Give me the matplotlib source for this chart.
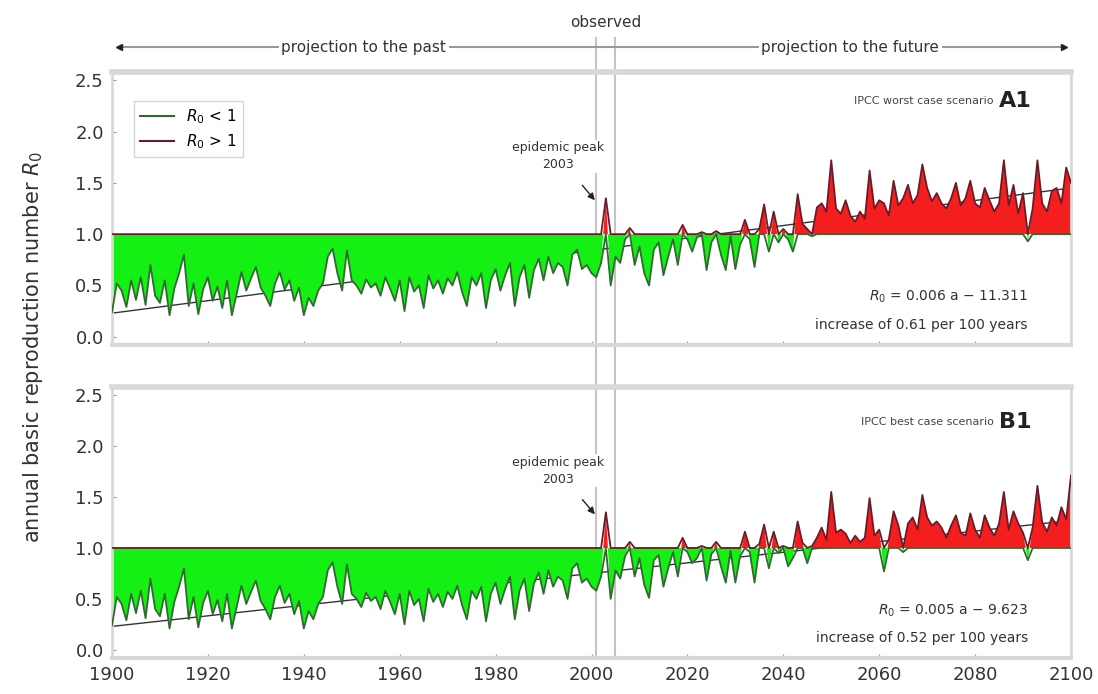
import numpy as np
import matplotlib.pyplot as plt
from matplotlib.lines import Line2D

# annual basic reproduction number R0
years = np.arange(1900, 2101)

# 1900-2005, same in both panels (projection to the past + observed)
r0_past = [
    0.24, 0.52, 0.45, 0.29, 0.55, 0.36, 0.58, 0.31, 0.70, 0.40,
    0.33, 0.55, 0.21, 0.47, 0.62, 0.80, 0.30, 0.52, 0.22, 0.46,
    0.58, 0.35, 0.49, 0.28, 0.55, 0.21, 0.42, 0.63, 0.45, 0.57,
    0.68, 0.48, 0.40, 0.30, 0.52, 0.63, 0.46, 0.55, 0.35, 0.48,
    0.21, 0.38, 0.30, 0.45, 0.52, 0.78, 0.86, 0.62, 0.45, 0.84,
    0.55, 0.50, 0.42, 0.56, 0.48, 0.52, 0.40, 0.58, 0.47, 0.35,
    0.55, 0.25, 0.58, 0.44, 0.50, 0.28, 0.60, 0.47, 0.55, 0.42,
    0.57, 0.50, 0.63, 0.44, 0.30, 0.58, 0.50, 0.62, 0.28, 0.55,
    0.66, 0.45, 0.60, 0.72, 0.30, 0.58, 0.70, 0.38, 0.65, 0.76,
    0.55, 0.78, 0.62, 0.72, 0.68, 0.50, 0.80, 0.85, 0.66, 0.70,
    0.62, 0.58, 0.72, 1.35, 0.50, 0.78,
]

# 2006-2100, IPCC scenario A1
r0_a1_future = [
    0.72, 0.95, 1.06, 0.70, 0.88, 0.62, 0.50, 0.85, 0.92, 0.60,
    0.78, 0.95, 0.70, 1.09, 0.95, 0.83, 0.97, 1.02, 0.65, 0.92,
    1.03, 0.80, 0.65, 0.98, 0.66, 0.90, 1.14, 0.95, 0.68, 1.05,
    1.29, 0.83, 1.22, 0.92, 1.05, 0.95, 0.83, 1.39, 1.10, 1.05,
    0.98, 1.26, 1.30, 1.22, 1.72, 1.25, 1.20, 1.33, 1.18, 1.12,
    1.22, 1.15, 1.62, 1.25, 1.33, 1.30, 1.18, 1.52, 1.28, 1.35,
    1.48, 1.30, 1.38, 1.68, 1.45, 1.32, 1.40, 1.30, 1.25, 1.35,
    1.50, 1.28, 1.35, 1.52, 1.30, 1.26, 1.45, 1.33, 1.22, 1.30,
    1.72, 1.28, 1.48, 1.20, 1.40, 0.93, 1.25, 1.72, 1.30, 1.22,
    1.42, 1.45, 1.30, 1.65, 1.50,
]

# 2006-2100, IPCC scenario B1
r0_b1_future = [
    0.70, 0.92, 1.06, 0.72, 0.90, 0.64, 0.51, 0.88, 0.93, 0.62,
    0.80, 0.96, 0.72, 1.10, 0.96, 0.85, 0.90, 1.02, 0.68, 0.94,
    1.06, 0.82, 0.66, 0.97, 0.66, 0.92, 1.16, 0.96, 0.66, 1.04,
    1.23, 0.80, 1.16, 0.95, 1.02, 0.82, 0.90, 1.26, 1.05, 0.85,
    1.02, 1.10, 1.20, 1.08, 1.55, 1.15, 1.18, 1.14, 1.05, 1.12,
    1.06, 1.10, 1.49, 1.12, 1.18, 0.77, 1.08, 1.36, 1.22, 0.96,
    1.24, 1.30, 1.18, 1.52, 1.30, 1.22, 1.26, 1.20, 1.10, 1.22,
    1.32, 1.15, 1.12, 1.34, 1.18, 1.10, 1.32, 1.20, 1.12, 1.24,
    1.55, 1.18, 1.36, 1.24, 1.15, 0.88, 1.20, 1.61, 1.25, 1.16,
    1.30, 1.22, 1.40, 1.28, 1.71,
]

# linear trend end points (1900, 2100)
trend_years = [1900, 2100]
trend_a1 = [0.23, 1.45]
trend_b1 = [0.23, 1.27]

scenarios = ['A1', 'B1']
scenario_text = ['IPCC worst case scenario', 'IPCC best case scenario']
equations = [r'$R_0$ = 0.006 a $-$ 11.311', r'$R_0$ = 0.005 a $-$ 9.623']
increases = ['increase of 0.61 per 100 years', 'increase of 0.52 per 100 years']
observed_years = [2001, 2005]
peak_year = 2003

green_fill = '#14f014'
red_fill = '#f51e1e'
green_line = '#2f6a2f'
red_line = '#6a1b28'
grey = '#c4c4c4'

W, H = 1098, 694
fig = plt.figure(figsize=(W / 100, H / 100), dpi=100)
left, right = 112 / W, 1071 / W

# overlay axes for the header and the observed-period lines (pixel y coords)
over = fig.add_axes([left, 0, right - left, 1], zorder=0)
over.set_xlim(1900, 2100)
over.set_ylim(H, 0)
over.axis('off')
for yr in observed_years:
    over.plot([yr, yr], [38, 658], color=grey, lw=1.5)
over.text(np.mean(observed_years), 22, 'observed', ha='center', va='center',
          fontsize=11, color='#333333')
over.plot([1901.5, 2098.5], [47, 47], color='#999999', lw=1.5)
over.plot([1901.5], [47], marker='<', color='#222222', ms=5)
over.plot([2098.5], [47], marker='>', color='#222222', ms=5)
over.text(1952.5, 47, 'projection to the past', ha='center', va='center',
          fontsize=11, color='#333333',
          bbox=dict(facecolor='white', edgecolor='none', pad=2))
over.text(2054, 47, 'projection to the future', ha='center', va='center',
          fontsize=11, color='#333333',
          bbox=dict(facecolor='white', edgecolor='none', pad=2))

ax_top = fig.add_axes([left, 1 - 345 / H, right - left, (345 - 72) / H], zorder=2)
ax_bot = fig.add_axes([left, 1 - 658 / H, right - left, (658 - 387) / H], zorder=2)

panels = [
    (ax_top, r0_past + r0_a1_future, trend_a1),
    (ax_bot, r0_past + r0_b1_future, trend_b1),
]

for i, (ax, vals, trend) in enumerate(panels):
    r0 = np.array(vals)
    ax.set_facecolor('none')
    ax.plot(trend_years, trend, color='#333333', lw=1, zorder=1)
    ax.fill_between(years, r0, 1, where=r0 <= 1, interpolate=True,
                    color=green_fill, lw=0, zorder=2)
    ax.fill_between(years, r0, 1, where=r0 >= 1, interpolate=True,
                    color=red_fill, lw=0, zorder=2)
    ax.plot(years, np.minimum(r0, 1), color=green_line, lw=1.3, zorder=3)
    ax.plot(years, np.maximum(r0, 1), color=red_line, lw=1.3, zorder=3)

    ax.set_xlim(1900, 2100)
    ax.set_ylim(-0.08, 2.58)
    ax.set_yticks([0, 0.5, 1.0, 1.5, 2.0, 2.5])
    ax.set_yticklabels(['0.0', '0.5', '1.0', '1.5', '2.0', '2.5'])
    ax.set_xticks(range(1900, 2101, 20))
    ax.tick_params(direction='in', length=3, color='#999999', labelsize=13,
                   labelcolor='#333333', pad=6)
    for sp in ax.spines.values():
        sp.set_color('#d8d8d8')
        sp.set_linewidth(2)
    ax.spines['top'].set_linewidth(4)
    ax.spines['bottom'].set_linewidth(3)

    # scenario label
    ax.text(0.927, 0.895 if i == 0 else 0.87, scenario_text[i] + '  ',
            transform=ax.transAxes, ha='right', va='center', fontsize=8,
            color='#444444')
    ax.text(0.925, 0.895 if i == 0 else 0.87, scenarios[i],
            transform=ax.transAxes, ha='left', va='center', fontsize=16,
            fontweight='bold', color='#222222')

    # trend equation
    ax.text(0.955, 0.175, equations[i], transform=ax.transAxes, ha='right',
            va='center', fontsize=10, color='#333333')
    ax.text(0.955, 0.075, increases[i], transform=ax.transAxes, ha='right',
            va='center', fontsize=10, color='#333333')

    # epidemic peak
    ax.annotate('epidemic peak\n2003', xy=(peak_year - 2.3, r0[peak_year - 1900] - 0.02),
                xytext=(1993, 1.76), ha='center', va='center', fontsize=9,
                color='#333333', linespacing=1.4,
                bbox=dict(facecolor='white', edgecolor='none', pad=1),
                arrowprops=dict(arrowstyle='-|>', color='#222222', lw=1,
                                shrinkA=12, shrinkB=0, mutation_scale=10),
                zorder=5)

ax_top.tick_params(labelbottom=False)

handles = [Line2D([], [], color=green_line, lw=1.5),
           Line2D([], [], color=red_line, lw=1.5)]
ax_top.legend(handles, [r'$R_0$ < 1', r'$R_0$ > 1'], loc='upper left',
              bbox_to_anchor=(0.015, 0.92), fontsize=11, frameon=True,
              fancybox=False, edgecolor='#cccccc', handlelength=2.2,
              borderpad=0.4, labelspacing=0.4)

fig.text(0.03, 0.5, r'annual basic reproduction number $R_0$', rotation=90,
         ha='center', va='center', fontsize=15, color='#333333')

fig.savefig('out.png', dpi=100)
